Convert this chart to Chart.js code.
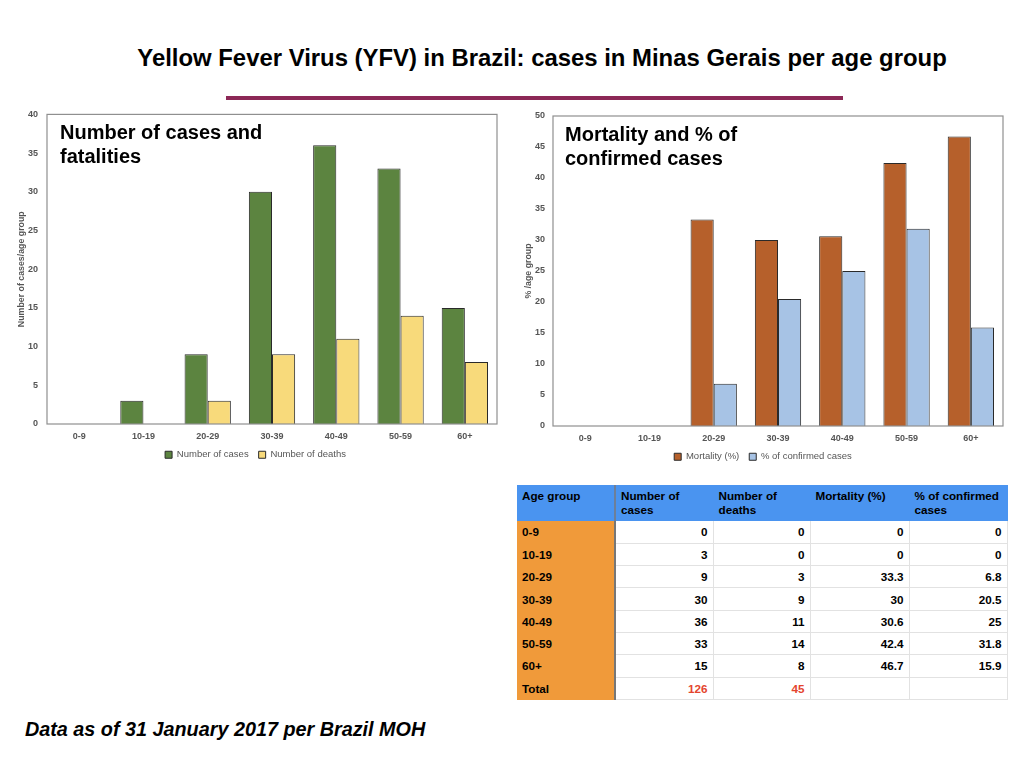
<!DOCTYPE html>
<html>
<head>
<meta charset="utf-8">
<script src="https://cdn.jsdelivr.net/npm/chart.js@4.4.1/dist/chart.umd.min.js"></script>
<style>
  html, body { margin:0; padding:0; background:#fff; }
  body { width:1024px; height:768px; position:relative; overflow:hidden; font-family:"Liberation Sans", Arial, Helvetica, sans-serif; }
  .abs { position:absolute; }
  #title { left:542px; top:44px; transform:translateX(-50%); font-size:23.9px; font-weight:bold; line-height:28px; white-space:nowrap; color:#000; }
  #rule { left:226px; top:96px; width:617px; height:4px; background:#8C2856; }
  .ctitle { font-size:20px; font-weight:bold; line-height:24px; color:#000; white-space:nowrap; }
  #footer { left:25px; top:717px; font-size:19.8px; font-weight:bold; font-style:italic; line-height:24px; white-space:nowrap; }
  #tbl { left:517px; top:485px; border-collapse:collapse; table-layout:fixed; font-size:11.7px; font-weight:bold; color:#000; }
  #tbl th { background:#4A94F0; text-align:left; vertical-align:top; padding:4px 5px 0 5px; height:32px; font-weight:bold; line-height:14px; border-right:1px solid #4A94F0; }
  #tbl th:first-child { border-right:2px solid #6d7f99; }
  #tbl td { height:22.3px; padding:0 5px; border-bottom:1px solid #e2e2e2; border-right:1px solid #e2e2e2; text-align:right; box-sizing:border-box; }
  #tbl td:first-child { background:#F09A3A; text-align:left; border-right:2px solid #777; border-bottom:1px solid #F09A3A; }
  #tbl td.red { color:#E4452E; }
</style>
</head>
<body>
<div id="title" class="abs">Yellow Fever Virus (YFV) in Brazil: cases in Minas Gerais per age group</div>
<div id="rule" class="abs"></div>

<div class="abs" style="left:0;top:100px;width:510px;height:370px;"><canvas id="c1"></canvas></div>
<div class="abs" style="left:510px;top:100px;width:514px;height:372px;"><canvas id="c2"></canvas></div>

<div class="abs ctitle" style="left:60px;top:120px;">Number of cases and<br>fatalities</div>
<div class="abs ctitle" style="left:565px;top:122px;">Mortality and % of<br>confirmed cases</div>

<table id="tbl" class="abs"></table>

<div id="footer" class="abs">Data as of 31 January 2017 per Brazil MOH</div>

<script>
const ageGroups = ["0-9", "10-19", "20-29", "30-39", "40-49", "50-59", "60+"];
const cases = [0, 3, 9, 30, 36, 33, 15];
const deaths = [0, 0, 3, 9, 11, 14, 8];
const mortality = [0, 0, 33.3, 30, 30.6, 42.4, 46.7];
const pctConfirmed = [0, 0, 6.8, 20.5, 25, 31.8, 15.9];
const totalCases = 126;
const totalDeaths = 45;
const tableHeaders = ["Age group", "Number of cases", "Number of deaths", "Mortality (%)", "% of confirmed cases"];

const borderPlugin = {
  id: 'plotBorder',
  afterDatasetsDraw(chart) {
    const {ctx, chartArea: a} = chart;
    ctx.save();
    ctx.strokeStyle = '#8f8f8f';
    ctx.lineWidth = 1.2;
    ctx.strokeRect(a.left, a.top, a.right - a.left, a.bottom - a.top);
    ctx.restore();
  }
};

function makeChart(id, ds, yMax, yTitle, yWidth, tickPad, titlePad, xH, pad) {
  return new Chart(document.getElementById(id), {
    type: 'bar',
    data: { labels: ageGroups, datasets: ds },
    options: {
      responsive: true,
      maintainAspectRatio: false,
      animation: false,
      layout: { padding: pad },
      plugins: {
        legend: {
          position: 'bottom',
          labels: { boxWidth: 7, boxHeight: 7, padding: 10, color: '#555', font: { family: 'Liberation Sans', size: 9.5 } }
        },
        tooltip: { enabled: false }
      },
      datasets: { bar: { barPercentage: 1, categoryPercentage: 0.72 } },
      scales: {
        x: {
          grid: { display: false, drawTicks: false },
          border: { display: false },
          ticks: { color: '#555', padding: 7, maxRotation: 0, autoSkip: false, font: { family: 'Liberation Sans', size: 9, weight: 'bold' } },
          afterFit(axis) { axis.height = xH; }
        },
        y: {
          min: 0, max: yMax,
          grid: { display: false, drawTicks: false },
          border: { display: false },
          ticks: { stepSize: 5, color: '#555', padding: tickPad, font: { family: 'Liberation Sans', size: 9, weight: 'bold' } },
          title: { display: true, text: yTitle, color: '#555', padding: { top: titlePad, bottom: 0 }, font: { family: 'Liberation Sans', size: 8.8, weight: 'bold' } },
          afterFit(axis) { axis.width = yWidth; }
        }
      }
    },
    plugins: [borderPlugin]
  });
}

makeChart('c1', [
  { label: 'Number of cases', data: cases, backgroundColor: '#5C8440', borderColor: '#2a2a2a', borderWidth: 1 },
  { label: 'Number of deaths', data: deaths, backgroundColor: '#F8DA7B', borderColor: '#2a2a2a', borderWidth: 1 }
], 40, 'Number of cases/age group', 33, 9, 2.5, 16, { top: 14, right: 13, left: 14, bottom: 0.5 });

makeChart('c2', [
  { label: 'Mortality (%)', data: mortality, backgroundColor: '#B6602B', borderColor: '#2a2a2a', borderWidth: 1 },
  { label: '% of confirmed cases', data: pctConfirmed, backgroundColor: '#A7C3E5', borderColor: '#2a2a2a', borderWidth: 1 }
], 50, '% /age group', 30, 8, 0.5, 16, { top: 16, right: 21, left: 13, bottom: 0.5 });

// table
const tbl = document.getElementById('tbl');
const colW = [98, 98, 97, 99, 98];
let html = '<colgroup>' + colW.map(w => '<col style="width:' + w + 'px">').join('') + '</colgroup>';
html += '<tr>' + tableHeaders.map(h => '<th>' + h + '</th>').join('') + '</tr>';
ageGroups.forEach((g, i) => {
  html += '<tr><td>' + g + '</td><td>' + cases[i] + '</td><td>' + deaths[i] + '</td><td>' + mortality[i] + '</td><td>' + pctConfirmed[i] + '</td></tr>';
});
html += '<tr><td>Total</td><td class="red">' + totalCases + '</td><td class="red">' + totalDeaths + '</td><td></td><td></td></tr>';
tbl.innerHTML = html;
</script>
</body>
</html>
